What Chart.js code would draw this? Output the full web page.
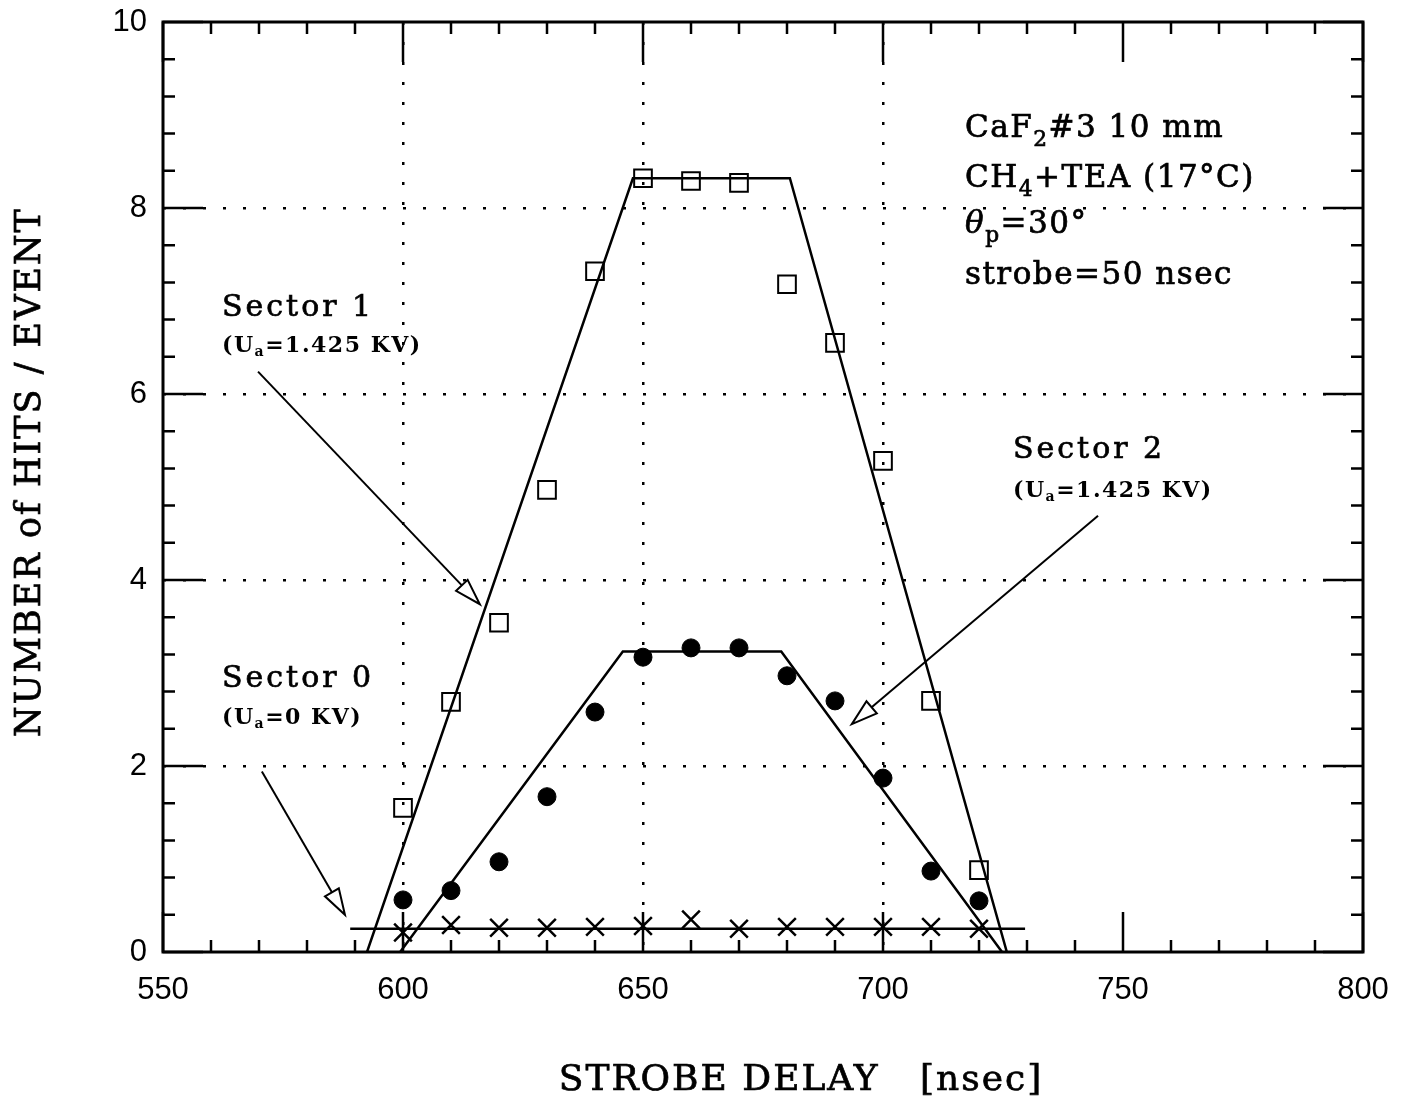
<!DOCTYPE html>
<html>
<head>
<meta charset="utf-8">
<script src="https://cdn.jsdelivr.net/npm/chart.js@4.4.0/dist/chart.umd.min.js"></script>
<style>
  html, body { margin: 0; padding: 0; background: #fff; }
  #wrap { width: 1405px; height: 1108px; }
</style>
</head>
<body>
<div id="wrap"><canvas id="chart" width="1405" height="1108"></canvas></div>
<script>
// strobe delay values (nsec)
const delays = [600, 610, 620, 630, 640, 650, 660, 670, 680, 690, 700, 710, 720];

// hits / event per sector
const sector1 = [1.55, 2.69, 3.54, 4.97, 7.32, 8.32, 8.29, 8.27, 7.18, 6.55, 5.28, 2.70, 0.88];
const sector2 = [0.56, 0.66, 0.97, 1.67, 2.58, 3.17, 3.27, 3.27, 2.97, 2.70, 1.87, 0.87, 0.55];
const sector0 = [0.21, 0.29, 0.26, 0.26, 0.27, 0.28, 0.35, 0.25, 0.27, 0.27, 0.27, 0.27, 0.25];

// fitted trapezoids
const fit1X = [592.5, 647.9, 680.6, 725.8];
const fit1Y = [0, 8.32, 8.32, 0];
const fit2X = [599.4, 645.8, 678.8, 724.8];
const fit2Y = [0, 3.23, 3.23, 0];
const fit0X = [589, 729.6];
const fit0Y = [0.25, 0.25];

const xTicks = [550, 600, 650, 700, 750, 800];
const yTicks = [0, 2, 4, 6, 8, 10];

function pts(xs, ys) {
    return xs.map((x, i) => ({ x: x, y: ys[i] }));
}

const serif = '"DejaVu Serif", "Liberation Serif", serif';

// arrows: [fromX, fromY, tipX, tipY] in data units
const arrows = [
    [569.8, 6.24, 616.0, 3.74],
    [570.6, 1.94, 587.9, 0.40],
    [744.8, 4.69, 693.5, 2.45]
];

// rich text pieces: n normal, b subscript, i italic
const infoLines = [
    [["CaF", "n"], ["2", "b"], ["#3 10 mm", "n"]],
    [["CH", "n"], ["4", "b"], ["+TEA (17°C)", "n"]],
    [["θ", "i"], ["p", "b"], ["=30°", "n"]],
    [["strobe=50 nsec", "n"]]
];

function drawRich(ctx, parts, x, y, size) {
    let cx = x;
    parts.forEach(p => {
        let f = size, dy = 0, style = "";
        if (p[1] === "b") { f = size * 0.7; dy = size * 0.3; }
        if (p[1] === "i") { style = "italic "; }
        ctx.font = style + f + "px " + serif;
        ctx.fillText(p[0], cx, y + dy);
        ctx.strokeText(p[0], cx, y + dy);
        cx += ctx.measureText(p[0]).width;
    });
}

function heavyText(ctx, txt, x, y) {
    ctx.fillText(txt, x, y);
    ctx.strokeText(txt, x, y);
}

const framePlugin = {
    id: "frame",
    afterDraw(chart) {
        const ctx = chart.ctx;
        const a = chart.chartArea;
        const xs = chart.scales.x, ys = chart.scales.y;
        ctx.save();
        ctx.strokeStyle = "#000";
        ctx.fillStyle = "#000";

        // inward ticks
        ctx.lineWidth = 2.5;
        for (let v = 550; v <= 800; v += 10) {
            const px = xs.getPixelForValue(v);
            const len = (v % 50 === 0) ? 40 : 12;
            ctx.beginPath();
            ctx.moveTo(px, a.bottom); ctx.lineTo(px, a.bottom - len);
            ctx.moveTo(px, a.top); ctx.lineTo(px, a.top + len);
            ctx.stroke();
        }
        for (let k = 0; k <= 25; k++) {
            const v = k * 0.4;
            const py = ys.getPixelForValue(v);
            const len = (k % 5 === 0) ? 40 : 12;
            ctx.beginPath();
            ctx.moveTo(a.left, py); ctx.lineTo(a.left + len, py);
            ctx.moveTo(a.right, py); ctx.lineTo(a.right - len, py);
            ctx.stroke();
        }

        // frame
        ctx.lineWidth = 3;
        ctx.strokeRect(a.left, a.top, a.right - a.left, a.bottom - a.top);

        // arrows
        ctx.lineWidth = 2;
        arrows.forEach(ar => {
            const x0 = xs.getPixelForValue(ar[0]), y0 = ys.getPixelForValue(ar[1]);
            const x1 = xs.getPixelForValue(ar[2]), y1 = ys.getPixelForValue(ar[3]);
            const ang = Math.atan2(y1 - y0, x1 - x0);
            const hl = 26, hw = 8;
            const bx = x1 - hl * Math.cos(ang), by = y1 - hl * Math.sin(ang);
            ctx.beginPath();
            ctx.moveTo(x0, y0); ctx.lineTo(bx, by);
            ctx.stroke();
            ctx.beginPath();
            ctx.moveTo(x1, y1);
            ctx.lineTo(bx + hw * Math.sin(ang), by - hw * Math.cos(ang));
            ctx.lineTo(bx - hw * Math.sin(ang), by + hw * Math.cos(ang));
            ctx.closePath();
            ctx.stroke();
        });

        // labels
        ctx.lineWidth = 0.7;
        ctx.textAlign = "left";
        ctx.textBaseline = "alphabetic";
        ctx.font = "30px " + serif;
        ctx.letterSpacing = "3px";
        heavyText(ctx, "Sector 1", 222, 316);
        heavyText(ctx, "Sector 0", 222, 687);
        heavyText(ctx, "Sector 2", 1013, 458);

        const sub = (txt, x, y) => {
            ctx.letterSpacing = "1.5px";
            ctx.font = "bold 22px " + serif;
            ctx.fillText("(U", x, y);
            let cx = x + ctx.measureText("(U").width;
            ctx.font = "bold 14px " + serif;
            ctx.fillText("a", cx, y + 4);
            cx += ctx.measureText("a").width;
            ctx.font = "bold 22px " + serif;
            ctx.fillText(txt, cx, y);
        };
        sub("=1.425 KV)", 222, 352);
        sub("=0 KV)", 222, 724);
        sub("=1.425 KV)", 1013, 497);

        ctx.letterSpacing = "1.5px";
        const base = [137, 187, 233, 284];
        infoLines.forEach((ln, i) => drawRich(ctx, ln, 965, base[i], 31));

        // axis titles
        ctx.font = "36px " + serif;
        ctx.letterSpacing = "2px";
        ctx.textAlign = "center";
        ctx.textBaseline = "middle";
        heavyText(ctx, "STROBE DELAY   [nsec]", 801, 1081);
        ctx.font = "35px " + serif;
        ctx.save();
        ctx.translate(31, 472);
        ctx.rotate(-Math.PI / 2);
        heavyText(ctx, "NUMBER of HITS / EVENT", 0, 0);
        ctx.restore();

        ctx.restore();
    }
};

const gridDash = {
    display: true,
    drawTicks: false,
    lineWidth: 2.5
};

const tickFont = { family: '"Liberation Sans", Arial, sans-serif', size: 31 };

new Chart(document.getElementById("chart"), {
    type: "scatter",
    data: {
        datasets: [
            {
                label: "Sector 1",
                data: pts(delays, sector1),
                pointStyle: "rect",
                pointRadius: 12.5,
                pointBorderWidth: 2,
                pointBorderColor: "#000",
                pointBackgroundColor: "rgba(0,0,0,0)",
                showLine: false
            },
            {
                label: "Sector 2",
                data: pts(delays, sector2),
                pointStyle: "circle",
                pointRadius: 9,
                pointBorderWidth: 1,
                pointBorderColor: "#000",
                pointBackgroundColor: "#000",
                showLine: false
            },
            {
                label: "Sector 0",
                data: pts(delays, sector0),
                pointStyle: "crossRot",
                pointRadius: 12.5,
                pointBorderWidth: 2.5,
                pointBorderColor: "#000",
                showLine: false
            },
            {
                label: "fit 1",
                data: pts(fit1X, fit1Y),
                showLine: true,
                borderColor: "#000",
                borderWidth: 2.5,
                pointRadius: 0,
                tension: 0
            },
            {
                label: "fit 2",
                data: pts(fit2X, fit2Y),
                showLine: true,
                borderColor: "#000",
                borderWidth: 2.5,
                pointRadius: 0,
                tension: 0
            },
            {
                label: "fit 0",
                data: pts(fit0X, fit0Y),
                showLine: true,
                borderColor: "#000",
                borderWidth: 2.5,
                pointRadius: 0,
                tension: 0
            }
        ]
    },
    options: {
        responsive: false,
        animation: false,
        layout: { padding: { top: 22, right: 42, left: 0, bottom: 0 } },
        plugins: {
            legend: { display: false },
            tooltip: { enabled: false }
        },
        scales: {
            x: {
                type: "linear",
                min: 550,
                max: 800,
                afterFit: s => {
                    s.height = 156;
                    s.paddingLeft = 0;
                    s.paddingRight = 0;
                },
                afterBuildTicks: s => { s.ticks = xTicks.map(v => ({ value: v })); },
                ticks: {
                    color: "#000",
                    padding: 20,
                    font: tickFont,
                    maxRotation: 0
                },
                border: { display: false, dash: [3, 17] },
                grid: Object.assign({}, gridDash, {
                    color: ctx => (ctx.tick && [600, 650, 700].includes(ctx.tick.value)) ? "#000" : "rgba(0,0,0,0)"
                })
            },
            y: {
                type: "linear",
                min: 0,
                max: 10,
                afterFit: s => {
                    s.width = 163;
                    s.paddingTop = 0;
                    s.paddingBottom = 0;
                },
                afterBuildTicks: s => { s.ticks = yTicks.map(v => ({ value: v })); },
                ticks: {
                    color: "#000",
                    padding: 16,
                    font: tickFont
                },
                border: { display: false, dash: [3, 17] },
                grid: Object.assign({}, gridDash, {
                    color: ctx => (ctx.tick && ctx.tick.value > 0 && ctx.tick.value < 10) ? "#000" : "rgba(0,0,0,0)"
                })
            }
        }
    },
    plugins: [framePlugin]
});
</script>
</body>
</html>
